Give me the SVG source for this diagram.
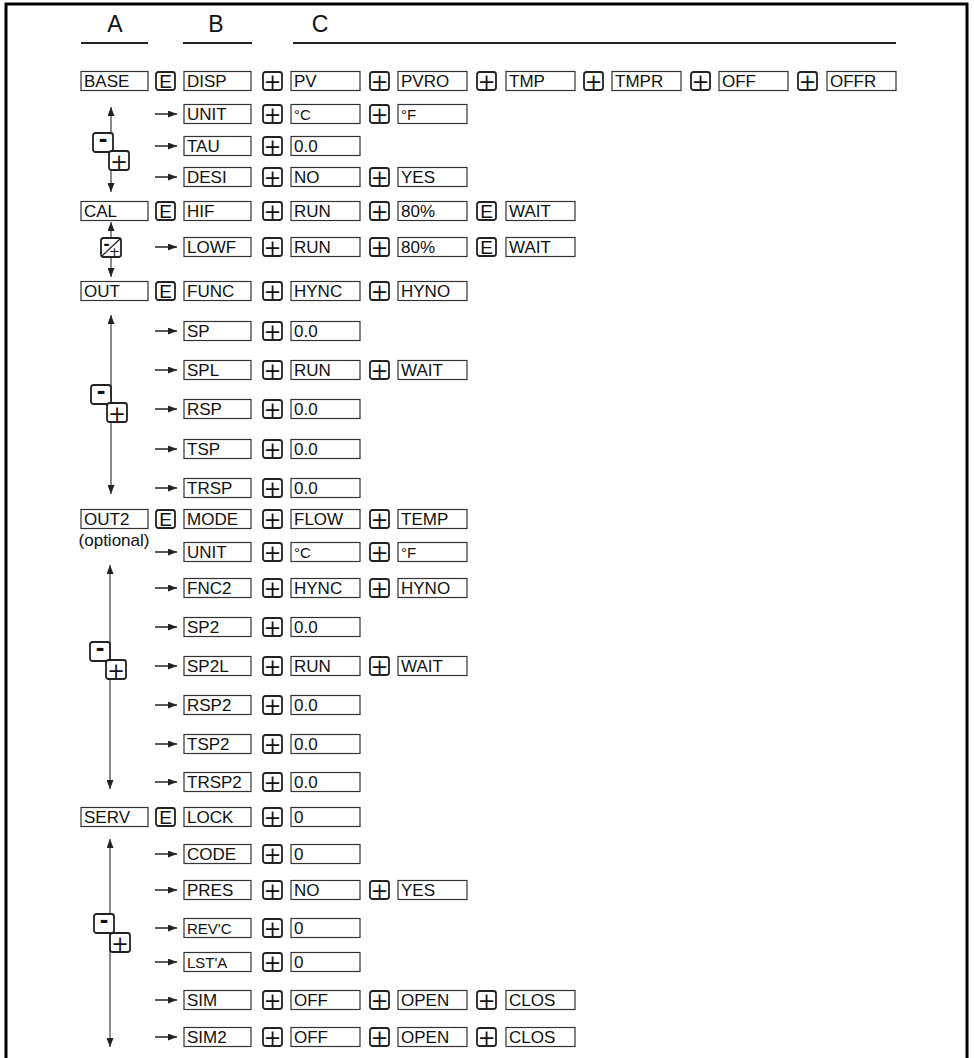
<svg xmlns="http://www.w3.org/2000/svg" xmlns:xlink="http://www.w3.org/1999/xlink" width="974" height="1058" viewBox="0 0 974 1058">
<style>
text{font-family:"Liberation Sans Narrow","Liberation Sans",Arial,sans-serif;fill:#111}
.node rect{fill:#fff;stroke:#333;stroke-width:1.2}
.node text{font-size:17px}
.node.sm text{font-size:15px}
.opt{font-size:17px;text-anchor:middle}
.hdr{font-size:23px;text-anchor:middle}
.ul{stroke:#222;stroke-width:2}
.key rect{fill:#fff;stroke:#222;stroke-width:1.8}
.key text{text-anchor:middle}
.kplus{font-family:"DejaVu Sans",sans-serif;font-size:21px}
.vline{stroke:#666;stroke-width:1.5;fill:none;marker-start:url(#ahv);marker-end:url(#ahv)}
.harrow{stroke:#222;stroke-width:1.5;marker-end:url(#ah)}
.frame{fill:none;stroke:#000;stroke-width:3}
</style>
<defs>
<marker id="ah" markerUnits="userSpaceOnUse" viewBox="0 0 9 7" markerWidth="9" markerHeight="7" refX="9" refY="3.5" orient="auto"><path d="M0,0 L9,3.5 L0,7 z" fill="#222"/></marker>
<marker id="ahv" markerUnits="userSpaceOnUse" viewBox="0 0 9 7" markerWidth="9" markerHeight="7" refX="9" refY="3.5" orient="auto-start-reverse"><path d="M0,0 L9,3.5 L0,7 z" fill="#222"/></marker>
<g id="kp" class="key"><rect x="1" y="1" width="19" height="18" rx="2.5"/><text class="kplus" x="10.5" y="17.5">+</text></g>
<g id="ke" class="key"><rect x="1" y="1" width="19" height="18" rx="2.5"/><text x="10.5" y="17" font-size="19">E</text></g>
<g id="km" class="key"><rect x="1" y="1" width="20" height="19" rx="2.5"/><text x="11" y="14.5" font-size="26" font-weight="bold" font-family="Liberation Sans, Arial, sans-serif">-</text></g>
<g id="kpp" class="key"><rect x="1" y="1" width="20" height="19" rx="2.5"/><text class="kplus" x="11" y="18.5">+</text></g>
</defs>

<path class="frame" d="M6,1058 V4 H967 V1058"/>

<g id="headers">
<text class="hdr" x="115" y="32">A</text>
<text class="hdr" x="216" y="32">B</text>
<text class="hdr" x="320" y="32">C</text>
<line class="ul" x1="81" y1="43" x2="148" y2="43"/>
<line class="ul" x1="183" y1="43" x2="252" y2="43"/>
<line class="ul" x1="293" y1="43" x2="896" y2="43"/>
</g>

<g id="connectors">
<line class="vline" x1="111" y1="107" x2="111" y2="192"/>
<line class="vline" x1="111" y1="222" x2="111" y2="277"/>
<line class="vline" x1="111" y1="315" x2="111" y2="494"/>
<line class="vline" x1="110" y1="565" x2="110" y2="789"/>
<line class="vline" x1="110" y1="839" x2="110" y2="1047"/>
<use href="#km" x="92" y="132"/><use href="#kpp" x="108" y="150"/>
<g class="key"><rect x="101" y="238" width="20" height="19" rx="2.5"/><line x1="102" y1="256" x2="120" y2="239" stroke="#222" stroke-width="1.2"/><text x="106.5" y="250" font-size="18" font-weight="bold" font-family="Liberation Sans, Arial, sans-serif">-</text><text class="kplus" x="114.5" y="256" style="font-size:13px">+</text></g>
<use href="#km" x="90" y="384"/><use href="#kpp" x="106" y="402"/>
<use href="#km" x="89" y="641"/><use href="#kpp" x="105" y="659"/>
<use href="#km" x="93" y="913"/><use href="#kpp" x="109" y="932"/>

<g transform="translate(0,81)"><use href="#ke" x="155" y="-10"/><use href="#kp" x="262" y="-10"/><use href="#kp" x="369" y="-10"/><use href="#kp" x="476" y="-10"/><use href="#kp" x="583" y="-10"/><use href="#kp" x="690" y="-10"/><use href="#kp" x="797" y="-10"/></g>
<g transform="translate(0,114)"><line class="harrow" x1="155" y1="0" x2="177" y2="0"/><use href="#kp" x="262" y="-10"/><use href="#kp" x="369" y="-10"/></g>
<g transform="translate(0,146)"><line class="harrow" x1="155" y1="0" x2="177" y2="0"/><use href="#kp" x="262" y="-10"/></g>
<g transform="translate(0,177)"><line class="harrow" x1="155" y1="0" x2="177" y2="0"/><use href="#kp" x="262" y="-10"/><use href="#kp" x="369" y="-10"/></g>
<g transform="translate(0,211)"><use href="#ke" x="155" y="-10"/><use href="#kp" x="262" y="-10"/><use href="#kp" x="369" y="-10"/><use href="#ke" x="476" y="-10"/></g>
<g transform="translate(0,247)"><line class="harrow" x1="155" y1="0" x2="177" y2="0"/><use href="#kp" x="262" y="-10"/><use href="#kp" x="369" y="-10"/><use href="#ke" x="476" y="-10"/></g>
<g transform="translate(0,291)"><use href="#ke" x="155" y="-10"/><use href="#kp" x="262" y="-10"/><use href="#kp" x="369" y="-10"/></g>
<g transform="translate(0,331)"><line class="harrow" x1="155" y1="0" x2="177" y2="0"/><use href="#kp" x="262" y="-10"/></g>
<g transform="translate(0,370)"><line class="harrow" x1="155" y1="0" x2="177" y2="0"/><use href="#kp" x="262" y="-10"/><use href="#kp" x="369" y="-10"/></g>
<g transform="translate(0,409)"><line class="harrow" x1="155" y1="0" x2="177" y2="0"/><use href="#kp" x="262" y="-10"/></g>
<g transform="translate(0,449)"><line class="harrow" x1="155" y1="0" x2="177" y2="0"/><use href="#kp" x="262" y="-10"/></g>
<g transform="translate(0,488)"><line class="harrow" x1="155" y1="0" x2="177" y2="0"/><use href="#kp" x="262" y="-10"/></g>
<g transform="translate(0,519)"><use href="#ke" x="155" y="-10"/><use href="#kp" x="262" y="-10"/><use href="#kp" x="369" y="-10"/></g>
<g transform="translate(0,552)"><line class="harrow" x1="155" y1="0" x2="177" y2="0"/><use href="#kp" x="262" y="-10"/><use href="#kp" x="369" y="-10"/></g>
<g transform="translate(0,588)"><line class="harrow" x1="155" y1="0" x2="177" y2="0"/><use href="#kp" x="262" y="-10"/><use href="#kp" x="369" y="-10"/></g>
<g transform="translate(0,627)"><line class="harrow" x1="155" y1="0" x2="177" y2="0"/><use href="#kp" x="262" y="-10"/></g>
<g transform="translate(0,666)"><line class="harrow" x1="155" y1="0" x2="177" y2="0"/><use href="#kp" x="262" y="-10"/><use href="#kp" x="369" y="-10"/></g>
<g transform="translate(0,705)"><line class="harrow" x1="155" y1="0" x2="177" y2="0"/><use href="#kp" x="262" y="-10"/></g>
<g transform="translate(0,744)"><line class="harrow" x1="155" y1="0" x2="177" y2="0"/><use href="#kp" x="262" y="-10"/></g>
<g transform="translate(0,782)"><line class="harrow" x1="155" y1="0" x2="177" y2="0"/><use href="#kp" x="262" y="-10"/></g>
<g transform="translate(0,817)"><use href="#ke" x="155" y="-10"/><use href="#kp" x="262" y="-10"/></g>
<g transform="translate(0,854)"><line class="harrow" x1="155" y1="0" x2="177" y2="0"/><use href="#kp" x="262" y="-10"/></g>
<g transform="translate(0,890)"><line class="harrow" x1="155" y1="0" x2="177" y2="0"/><use href="#kp" x="262" y="-10"/><use href="#kp" x="369" y="-10"/></g>
<g transform="translate(0,928)"><line class="harrow" x1="155" y1="0" x2="177" y2="0"/><use href="#kp" x="262" y="-10"/></g>
<g transform="translate(0,962)"><line class="harrow" x1="155" y1="0" x2="177" y2="0"/><use href="#kp" x="262" y="-10"/></g>
<g transform="translate(0,1000)"><line class="harrow" x1="155" y1="0" x2="177" y2="0"/><use href="#kp" x="262" y="-10"/><use href="#kp" x="369" y="-10"/><use href="#kp" x="476" y="-10"/></g>
<g transform="translate(0,1037)"><line class="harrow" x1="155" y1="0" x2="177" y2="0"/><use href="#kp" x="262" y="-10"/><use href="#kp" x="369" y="-10"/><use href="#kp" x="476" y="-10"/></g>
</g>

<g id="nodes">
<g transform="translate(0,81)">
<g id="n-base" class="node"><rect x="81" y="-9.5" width="67" height="19"/><text x="84" y="6">BASE</text></g>
<g id="n-disp" class="node"><rect x="184" y="-9.5" width="67" height="19"/><text x="187" y="6">DISP</text></g>
<g id="n-pv" class="node"><rect x="291" y="-9.5" width="69" height="19"/><text x="294" y="6">PV</text></g>
<g id="n-pvro" class="node"><rect x="398" y="-9.5" width="69" height="19"/><text x="401" y="6">PVRO</text></g>
<g id="n-tmp" class="node"><rect x="506" y="-9.5" width="69" height="19"/><text x="509" y="6">TMP</text></g>
<g id="n-tmpr" class="node"><rect x="612" y="-9.5" width="69" height="19"/><text x="615" y="6">TMPR</text></g>
<g id="n-off" class="node"><rect x="719" y="-9.5" width="69" height="19"/><text x="722" y="6">OFF</text></g>
<g id="n-offr" class="node"><rect x="827" y="-9.5" width="69" height="19"/><text x="830" y="6">OFFR</text></g>
</g>
<g transform="translate(0,114)">
<g id="n-unit" class="node"><rect x="184" y="-9.5" width="67" height="19"/><text x="187" y="6">UNIT</text></g>
<g id="n-unit-c" class="node sm"><rect x="291" y="-9.5" width="69" height="19"/><text x="294" y="5.5">°C</text></g>
<g id="n-unit-f" class="node sm"><rect x="398" y="-9.5" width="69" height="19"/><text x="401" y="5.5">°F</text></g>
</g>
<g transform="translate(0,146)">
<g id="n-tau" class="node"><rect x="184" y="-9.5" width="67" height="19"/><text x="187" y="6">TAU</text></g>
<g id="n-tau-v" class="node"><rect x="291" y="-9.5" width="69" height="19"/><text x="294" y="6">0.0</text></g>
</g>
<g transform="translate(0,177)">
<g id="n-desi" class="node"><rect x="184" y="-9.5" width="67" height="19"/><text x="187" y="6">DESI</text></g>
<g id="n-desi-no" class="node"><rect x="291" y="-9.5" width="69" height="19"/><text x="294" y="6">NO</text></g>
<g id="n-desi-yes" class="node"><rect x="398" y="-9.5" width="69" height="19"/><text x="401" y="6">YES</text></g>
</g>
<g transform="translate(0,211)">
<g id="n-cal" class="node"><rect x="81" y="-9.5" width="67" height="19"/><text x="84" y="6">CAL</text></g>
<g id="n-hif" class="node"><rect x="184" y="-9.5" width="67" height="19"/><text x="187" y="6">HIF</text></g>
<g id="n-hif-run" class="node"><rect x="291" y="-9.5" width="69" height="19"/><text x="294" y="6">RUN</text></g>
<g id="n-hif-80" class="node"><rect x="398" y="-9.5" width="69" height="19"/><text x="401" y="6">80%</text></g>
<g id="n-hif-wait" class="node"><rect x="506" y="-9.5" width="69" height="19"/><text x="509" y="6">WAIT</text></g>
</g>
<g transform="translate(0,247)">
<g id="n-lowf" class="node"><rect x="184" y="-9.5" width="67" height="19"/><text x="187" y="6">LOWF</text></g>
<g id="n-lowf-run" class="node"><rect x="291" y="-9.5" width="69" height="19"/><text x="294" y="6">RUN</text></g>
<g id="n-lowf-80" class="node"><rect x="398" y="-9.5" width="69" height="19"/><text x="401" y="6">80%</text></g>
<g id="n-lowf-wait" class="node"><rect x="506" y="-9.5" width="69" height="19"/><text x="509" y="6">WAIT</text></g>
</g>
<g transform="translate(0,291)">
<g id="n-out" class="node"><rect x="81" y="-9.5" width="67" height="19"/><text x="84" y="6">OUT</text></g>
<g id="n-func" class="node"><rect x="184" y="-9.5" width="67" height="19"/><text x="187" y="6">FUNC</text></g>
<g id="n-func-hync" class="node"><rect x="291" y="-9.5" width="69" height="19"/><text x="294" y="6">HYNC</text></g>
<g id="n-func-hyno" class="node"><rect x="398" y="-9.5" width="69" height="19"/><text x="401" y="6">HYNO</text></g>
</g>
<g transform="translate(0,331)">
<g id="n-sp" class="node"><rect x="184" y="-9.5" width="67" height="19"/><text x="187" y="6">SP</text></g>
<g id="n-sp-v" class="node"><rect x="291" y="-9.5" width="69" height="19"/><text x="294" y="6">0.0</text></g>
</g>
<g transform="translate(0,370)">
<g id="n-spl" class="node"><rect x="184" y="-9.5" width="67" height="19"/><text x="187" y="6">SPL</text></g>
<g id="n-spl-run" class="node"><rect x="291" y="-9.5" width="69" height="19"/><text x="294" y="6">RUN</text></g>
<g id="n-spl-wait" class="node"><rect x="398" y="-9.5" width="69" height="19"/><text x="401" y="6">WAIT</text></g>
</g>
<g transform="translate(0,409)">
<g id="n-rsp" class="node"><rect x="184" y="-9.5" width="67" height="19"/><text x="187" y="6">RSP</text></g>
<g id="n-rsp-v" class="node"><rect x="291" y="-9.5" width="69" height="19"/><text x="294" y="6">0.0</text></g>
</g>
<g transform="translate(0,449)">
<g id="n-tsp" class="node"><rect x="184" y="-9.5" width="67" height="19"/><text x="187" y="6">TSP</text></g>
<g id="n-tsp-v" class="node"><rect x="291" y="-9.5" width="69" height="19"/><text x="294" y="6">0.0</text></g>
</g>
<g transform="translate(0,488)">
<g id="n-trsp" class="node"><rect x="184" y="-9.5" width="67" height="19"/><text x="187" y="6">TRSP</text></g>
<g id="n-trsp-v" class="node"><rect x="291" y="-9.5" width="69" height="19"/><text x="294" y="6">0.0</text></g>
</g>
<g transform="translate(0,519)">
<g id="n-out2" class="node"><rect x="81" y="-9.5" width="67" height="19"/><text x="84" y="6">OUT2</text><text class="opt" x="114" y="27">(optional)</text></g>
<g id="n-mode" class="node"><rect x="184" y="-9.5" width="67" height="19"/><text x="187" y="6">MODE</text></g>
<g id="n-mode-flow" class="node"><rect x="291" y="-9.5" width="69" height="19"/><text x="294" y="6">FLOW</text></g>
<g id="n-mode-temp" class="node"><rect x="398" y="-9.5" width="69" height="19"/><text x="401" y="6">TEMP</text></g>
</g>
<g transform="translate(0,552)">
<g id="n-unit2" class="node"><rect x="184" y="-9.5" width="67" height="19"/><text x="187" y="6">UNIT</text></g>
<g id="n-unit2-c" class="node sm"><rect x="291" y="-9.5" width="69" height="19"/><text x="294" y="5.5">°C</text></g>
<g id="n-unit2-f" class="node sm"><rect x="398" y="-9.5" width="69" height="19"/><text x="401" y="5.5">°F</text></g>
</g>
<g transform="translate(0,588)">
<g id="n-fnc2" class="node"><rect x="184" y="-9.5" width="67" height="19"/><text x="187" y="6">FNC2</text></g>
<g id="n-fnc2-hync" class="node"><rect x="291" y="-9.5" width="69" height="19"/><text x="294" y="6">HYNC</text></g>
<g id="n-fnc2-hyno" class="node"><rect x="398" y="-9.5" width="69" height="19"/><text x="401" y="6">HYNO</text></g>
</g>
<g transform="translate(0,627)">
<g id="n-sp2" class="node"><rect x="184" y="-9.5" width="67" height="19"/><text x="187" y="6">SP2</text></g>
<g id="n-sp2-v" class="node"><rect x="291" y="-9.5" width="69" height="19"/><text x="294" y="6">0.0</text></g>
</g>
<g transform="translate(0,666)">
<g id="n-sp2l" class="node"><rect x="184" y="-9.5" width="67" height="19"/><text x="187" y="6">SP2L</text></g>
<g id="n-sp2l-run" class="node"><rect x="291" y="-9.5" width="69" height="19"/><text x="294" y="6">RUN</text></g>
<g id="n-sp2l-wait" class="node"><rect x="398" y="-9.5" width="69" height="19"/><text x="401" y="6">WAIT</text></g>
</g>
<g transform="translate(0,705)">
<g id="n-rsp2" class="node"><rect x="184" y="-9.5" width="67" height="19"/><text x="187" y="6">RSP2</text></g>
<g id="n-rsp2-v" class="node"><rect x="291" y="-9.5" width="69" height="19"/><text x="294" y="6">0.0</text></g>
</g>
<g transform="translate(0,744)">
<g id="n-tsp2" class="node"><rect x="184" y="-9.5" width="67" height="19"/><text x="187" y="6">TSP2</text></g>
<g id="n-tsp2-v" class="node"><rect x="291" y="-9.5" width="69" height="19"/><text x="294" y="6">0.0</text></g>
</g>
<g transform="translate(0,782)">
<g id="n-trsp2" class="node"><rect x="184" y="-9.5" width="67" height="19"/><text x="187" y="6">TRSP2</text></g>
<g id="n-trsp2-v" class="node"><rect x="291" y="-9.5" width="69" height="19"/><text x="294" y="6">0.0</text></g>
</g>
<g transform="translate(0,817)">
<g id="n-serv" class="node"><rect x="81" y="-9.5" width="67" height="19"/><text x="84" y="6">SERV</text></g>
<g id="n-lock" class="node"><rect x="184" y="-9.5" width="67" height="19"/><text x="187" y="6">LOCK</text></g>
<g id="n-lock-v" class="node"><rect x="291" y="-9.5" width="69" height="19"/><text x="294" y="6">0</text></g>
</g>
<g transform="translate(0,854)">
<g id="n-code" class="node"><rect x="184" y="-9.5" width="67" height="19"/><text x="187" y="6">CODE</text></g>
<g id="n-code-v" class="node"><rect x="291" y="-9.5" width="69" height="19"/><text x="294" y="6">0</text></g>
</g>
<g transform="translate(0,890)">
<g id="n-pres" class="node"><rect x="184" y="-9.5" width="67" height="19"/><text x="187" y="6">PRES</text></g>
<g id="n-pres-no" class="node"><rect x="291" y="-9.5" width="69" height="19"/><text x="294" y="6">NO</text></g>
<g id="n-pres-yes" class="node"><rect x="398" y="-9.5" width="69" height="19"/><text x="401" y="6">YES</text></g>
</g>
<g transform="translate(0,928)">
<g id="n-revc" class="node sm"><rect x="184" y="-9.5" width="67" height="19"/><text x="187" y="5.5">REV'C</text></g>
<g id="n-revc-v" class="node"><rect x="291" y="-9.5" width="69" height="19"/><text x="294" y="6">0</text></g>
</g>
<g transform="translate(0,962)">
<g id="n-lsta" class="node sm"><rect x="184" y="-9.5" width="67" height="19"/><text x="187" y="5.5">LST'A</text></g>
<g id="n-lsta-v" class="node"><rect x="291" y="-9.5" width="69" height="19"/><text x="294" y="6">0</text></g>
</g>
<g transform="translate(0,1000)">
<g id="n-sim" class="node"><rect x="184" y="-9.5" width="67" height="19"/><text x="187" y="6">SIM</text></g>
<g id="n-sim-off" class="node"><rect x="291" y="-9.5" width="69" height="19"/><text x="294" y="6">OFF</text></g>
<g id="n-sim-open" class="node"><rect x="398" y="-9.5" width="69" height="19"/><text x="401" y="6">OPEN</text></g>
<g id="n-sim-clos" class="node"><rect x="506" y="-9.5" width="69" height="19"/><text x="509" y="6">CLOS</text></g>
</g>
<g transform="translate(0,1037)">
<g id="n-sim2" class="node"><rect x="184" y="-9.5" width="67" height="19"/><text x="187" y="6">SIM2</text></g>
<g id="n-sim2-off" class="node"><rect x="291" y="-9.5" width="69" height="19"/><text x="294" y="6">OFF</text></g>
<g id="n-sim2-open" class="node"><rect x="398" y="-9.5" width="69" height="19"/><text x="401" y="6">OPEN</text></g>
<g id="n-sim2-clos" class="node"><rect x="506" y="-9.5" width="69" height="19"/><text x="509" y="6">CLOS</text></g>
</g>
</g>
</svg>
